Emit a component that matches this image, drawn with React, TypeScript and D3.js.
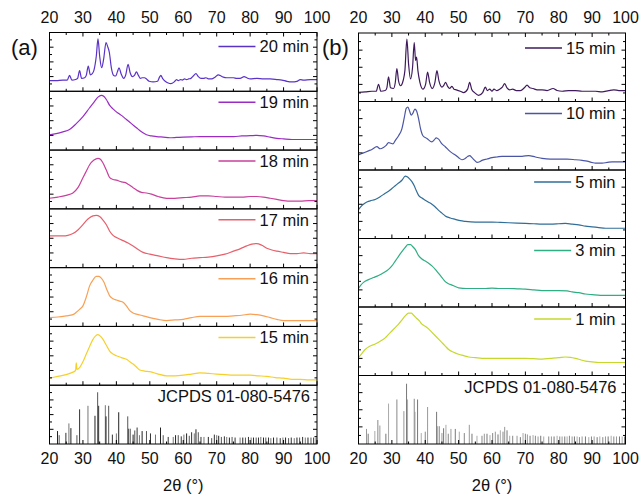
import React, { useEffect, useRef } from "react";
import * as d3 from "d3";

type Pt = [number, number];

// panel (a) series: [2theta, relative intensity within its row]
const labelsA = ["20 min", "19 min", "18 min", "17 min", "16 min", "15 min"];
const colorsA = ["#5a32c8", "#9a2cc4", "#c8409c", "#e6606c", "#f8a055", "#f6d02a"];

const a20: Pt[] = [[20,0.18],[22,0.18],[24,0.19],[25.3,0.19],[26,0.27],[26.7,0.19],[27.8,0.2],[28.4,0.22],[29,0.35],[29.6,0.22],[30.5,0.23],[31,0.27],[31.6,0.43],[32.2,0.28],[32.8,0.3],[33.3,0.36],[34,0.6],[34.5,0.89],[35,0.6],[35.6,0.4],[36.2,0.55],[36.9,0.83],[37.4,0.76],[37.9,0.66],[38.5,0.4],[39.2,0.27],[39.8,0.26],[40.3,0.33],[40.8,0.4],[41.4,0.3],[42.2,0.22],[42.8,0.28],[43.5,0.46],[44.1,0.32],[44.8,0.25],[45.4,0.27],[46,0.33],[46.6,0.27],[47.2,0.22],[47.8,0.23],[48.4,0.23],[49,0.21],[49.8,0.17],[51,0.16],[52.3,0.17],[52.9,0.24],[53.3,0.27],[53.8,0.22],[54.6,0.17],[55.5,0.14],[56.3,0.13],[57.3,0.16],[58,0.2],[58.5,0.18],[59.2,0.2],[59.7,0.19],[60.4,0.21],[61,0.2],[61.6,0.21],[62.3,0.22],[63,0.26],[63.8,0.3],[64.5,0.25],[65.3,0.22],[66,0.22],[66.8,0.23],[67.5,0.21],[68.5,0.21],[69.5,0.24],[70.5,0.28],[71.3,0.26],[72,0.24],[73,0.23],[74,0.23],[75,0.23],[76,0.22],[77,0.22],[78.2,0.25],[79,0.23],[80,0.21],[82,0.22],[84,0.21],[86,0.21],[88,0.2],[89.5,0.19],[91,0.17],[92.5,0.16],[94,0.17],[95,0.2],[96,0.19],[98,0.2],[100,0.2]];
const a19: Pt[] = [[20,0.26],[22,0.28],[24,0.31],[26,0.35],[28,0.45],[30,0.57],[32,0.72],[33.5,0.83],[34.5,0.9],[35.5,0.93],[36.3,0.91],[37,0.86],[38,0.76],[39,0.7],[40,0.65],[41.5,0.59],[43,0.52],[44.5,0.45],[46,0.38],[47.5,0.31],[49,0.26],[50.5,0.24],[52,0.23],[54,0.22],[56,0.21],[58,0.215],[60,0.22],[62.5,0.225],[65,0.23],[67.5,0.23],[70,0.23],[72.5,0.23],[75,0.23],[77.5,0.24],[80,0.245],[82,0.25],[84,0.24],[86,0.22],[88,0.2],[90,0.19],[92.5,0.18],[95,0.18],[97.5,0.18],[100,0.18]];
const a18: Pt[] = [[20,0.18],[22.5,0.2],[25,0.23],[27,0.27],[28.5,0.36],[30,0.53],[31,0.64],[32,0.75],[33.3,0.83],[34.5,0.86],[35.3,0.84],[36,0.78],[37,0.66],[38,0.53],[39,0.5],[40,0.49],[41.5,0.46],[42.5,0.45],[43.5,0.42],[45,0.36],[46.3,0.31],[47.5,0.28],[49,0.27],[50.5,0.25],[52.5,0.21],[55,0.18],[57.5,0.18],[60,0.19],[62.5,0.2],[65,0.22],[67.5,0.22],[70,0.21],[72.5,0.2],[75,0.2],[77.5,0.2],[80,0.21],[82,0.21],[84,0.2],[86,0.18],[88,0.16],[90,0.14],[92.5,0.13],[95,0.13],[97.5,0.14],[100,0.14]];
const a17: Pt[] = [[20,0.54],[22,0.54],[24,0.54],[25.5,0.55],[27,0.58],[28.5,0.64],[30,0.73],[31,0.8],[32,0.85],[33,0.88],[34,0.89],[35,0.87],[36,0.81],[37,0.73],[38,0.62],[39,0.55],[40.5,0.5],[42,0.46],[43.5,0.42],[45,0.37],[46.5,0.31],[48,0.26],[50,0.23],[52.5,0.2],[55,0.17],[57.5,0.15],[60,0.14],[62.5,0.16],[65,0.17],[67.5,0.18],[70,0.2],[72.5,0.23],[75,0.28],[77,0.32],[79,0.37],[80.5,0.4],[82,0.41],[83.5,0.38],[85,0.33],[86.5,0.3],[88,0.28],[90,0.26],[92,0.24],[94,0.24],[96,0.25],[98,0.24],[100,0.24]];
const a16: Pt[] = [[20,0.15],[22.5,0.16],[25,0.18],[27,0.2],[28,0.24],[29,0.29],[30,0.35],[31,0.5],[32,0.69],[33,0.79],[34,0.85],[34.8,0.85],[35.5,0.82],[36.3,0.75],[37.2,0.62],[38,0.52],[39,0.47],[40,0.45],[41,0.43],[42,0.41],[43,0.35],[44,0.27],[45,0.23],[46,0.21],[48,0.18],[50,0.15],[52.5,0.12],[55,0.1],[57.5,0.11],[60,0.12],[62.5,0.15],[65,0.17],[67.5,0.17],[70,0.17],[72.5,0.17],[75,0.18],[77.5,0.19],[80,0.21],[82,0.2],[84,0.18],[86,0.15],[88,0.12],[90,0.1],[92.5,0.1],[95,0.1],[97.5,0.1],[100,0.1]];
const a15: Pt[] = [[20,0.12],[22.5,0.15],[25,0.18],[26.5,0.21],[27.8,0.25],[28,0.38],[28.2,0.27],[29,0.3],[30,0.4],[31,0.53],[32,0.66],[33,0.78],[33.8,0.84],[34.5,0.86],[35.3,0.83],[36,0.78],[37,0.68],[38,0.58],[39,0.53],[40,0.5],[41.5,0.47],[43,0.44],[44,0.4],[45,0.36],[46,0.31],[47,0.26],[48.5,0.24],[50,0.23],[52.5,0.19],[55,0.16],[57.5,0.16],[60,0.17],[62.5,0.19],[65,0.21],[67.5,0.2],[70,0.19],[72.5,0.18],[75,0.17],[77.5,0.17],[80,0.17],[82.5,0.16],[85,0.15],[87.5,0.13],[90,0.12],[92.5,0.1],[95,0.1],[97.5,0.09],[100,0.09]];

// panel (b) series
const labelsB = ["15 min", "10 min", "5 min", "3 min", "1 min"];
const colorsB = ["#3e1a5c", "#4a55a6", "#306e98", "#2eae82", "#c6d82c"];

const b15: Pt[] = [[20,0.135],[22,0.14],[24,0.15],[25.3,0.15],[26,0.25],[26.7,0.15],[28,0.16],[28.5,0.2],[29,0.36],[29.6,0.2],[30.5,0.19],[31,0.27],[31.5,0.48],[32,0.3],[32.6,0.23],[33.4,0.31],[33.9,0.45],[34.5,0.91],[35,0.55],[35.6,0.33],[36.2,0.5],[36.7,0.86],[37.1,0.6],[37.4,0.65],[37.8,0.45],[38.4,0.28],[39.3,0.18],[40.1,0.25],[40.7,0.43],[41.3,0.28],[42.1,0.19],[42.9,0.28],[43.5,0.45],[44.1,0.3],[45,0.21],[45.6,0.24],[46.1,0.28],[46.7,0.22],[47.3,0.19],[48,0.22],[48.6,0.18],[49.3,0.17],[50.5,0.15],[51.5,0.13],[52.7,0.18],[53.3,0.28],[53.9,0.18],[54.8,0.13],[56,0.09],[57.2,0.13],[58,0.21],[58.6,0.16],[59.3,0.18],[60,0.15],[60.6,0.18],[61.4,0.16],[62.3,0.18],[63.1,0.21],[63.8,0.26],[64.5,0.2],[65.3,0.17],[66.2,0.18],[67.3,0.16],[68.5,0.16],[69.7,0.2],[70.5,0.24],[71.3,0.2],[72.3,0.19],[73.5,0.17],[75,0.17],[76.5,0.16],[78.3,0.19],[79.5,0.16],[81,0.15],[83,0.16],[85,0.16],[87,0.15],[89,0.15],[91,0.15],[93,0.14],[95,0.16],[96.5,0.17],[98,0.16],[100,0.16]];
const b10: Pt[] = [[20,0.22],[21,0.24],[22,0.26],[23,0.28],[24,0.3],[25.5,0.34],[26.5,0.31],[27.5,0.33],[28.3,0.36],[29,0.4],[29.7,0.39],[30.3,0.38],[31,0.43],[32,0.5],[33,0.6],[33.7,0.76],[34.3,0.9],[34.8,0.92],[35.3,0.86],[35.8,0.8],[36.3,0.83],[36.9,0.89],[37.4,0.86],[38,0.75],[38.6,0.6],[39.3,0.5],[40.5,0.46],[42,0.41],[42.7,0.44],[43.3,0.47],[44,0.45],[45,0.38],[46,0.34],[47,0.29],[48,0.25],[49,0.22],[50,0.18],[51,0.15],[52,0.17],[52.8,0.2],[53.3,0.21],[54,0.18],[54.8,0.14],[55.5,0.11],[56.3,0.12],[57,0.14],[58.5,0.16],[60,0.18],[61.5,0.19],[63,0.2],[65,0.2],[67,0.2],[69,0.2],[71,0.21],[73,0.19],[75,0.17],[77.5,0.16],[80,0.16],[82.5,0.16],[85,0.15],[87,0.14],[88.5,0.13],[90,0.11],[91,0.1],[93,0.1],[94.5,0.11],[96,0.12],[98,0.12],[100,0.12]];
const b5: Pt[] = [[20,0.42],[21,0.48],[22,0.52],[23.5,0.55],[25,0.57],[26.5,0.61],[28,0.66],[29,0.69],[30,0.73],[31,0.77],[32,0.81],[33,0.85],[34,0.91],[34.6,0.9],[35.3,0.87],[36,0.83],[36.7,0.77],[37.3,0.7],[38,0.63],[39,0.59],[40,0.56],[41,0.53],[42,0.5],[43,0.46],[44,0.41],[45,0.37],[46,0.33],[47.5,0.3],[49,0.28],[50.5,0.26],[52,0.25],[55,0.24],[57.5,0.24],[60,0.24],[62.5,0.235],[65,0.23],[67.5,0.225],[70,0.22],[72.5,0.215],[75,0.21],[77.5,0.21],[80,0.215],[82,0.22],[84,0.21],[86,0.2],[88,0.18],[90,0.17],[92,0.16],[94,0.15],[96,0.15],[98,0.15],[100,0.15]];
const b3: Pt[] = [[20,0.27],[20.7,0.32],[21.5,0.36],[23,0.4],[24.5,0.43],[26,0.46],[27.5,0.5],[29,0.55],[30,0.6],[31,0.67],[32,0.74],[33,0.81],[34,0.87],[34.8,0.91],[35.6,0.91],[36.3,0.88],[37,0.84],[38,0.75],[39,0.7],[40,0.67],[41,0.64],[42,0.6],[43,0.55],[44,0.49],[45,0.43],[46,0.37],[47,0.34],[48,0.32],[49,0.3],[50,0.28],[52.5,0.27],[55,0.27],[57.5,0.27],[60,0.275],[62.5,0.27],[65,0.27],[67.5,0.265],[70,0.26],[72.5,0.25],[75,0.24],[77.5,0.24],[80,0.24],[82.5,0.235],[84,0.22],[86,0.21],[88,0.19],[90,0.18],[92.5,0.17],[95,0.17],[97.5,0.17],[100,0.17]];
const b1: Pt[] = [[20,0.26],[21,0.32],[22,0.38],[23.5,0.43],[25,0.46],[26.5,0.5],[28,0.55],[29,0.6],[30,0.65],[31,0.7],[32,0.75],[33,0.81],[34,0.87],[35,0.91],[35.8,0.91],[36.5,0.88],[37.3,0.84],[38.2,0.8],[39,0.75],[40,0.72],[41,0.68],[42,0.63],[43,0.58],[44,0.53],[45,0.48],[46,0.43],[47,0.38],[48.5,0.34],[50,0.31],[51.5,0.29],[53,0.27],[55,0.26],[57,0.25],[60,0.25],[62.5,0.25],[65,0.25],[67.5,0.25],[70,0.25],[72.5,0.245],[75,0.24],[77.5,0.25],[80,0.26],[82,0.27],[83.5,0.265],[85,0.25],[86.5,0.23],[88,0.21],[90,0.2],[92,0.19],[94,0.19],[96,0.19],[98,0.19],[100,0.19]];

// reference pattern JCPDS 01-080-5476: [2theta, relative height]
const jcpdsLabel = "JCPDS 01-080-5476";
const jcpds: Pt[] = [[22.4,0.22],[22.9,0.15],[24.9,0.19],[25.8,0.35],[26.4,0.27],[28.2,0.15],[29.0,0.59],[31.5,0.65],[33.6,0.48],[34.4,0.88],[34.7,0.65],[36.7,0.66],[36.9,0.47],[37.7,0.65],[38.8,0.16],[40.0,0.18],[40.7,0.54],[43.4,0.47],[43.7,0.26],[44.2,0.26],[45.0,0.16],[45.5,0.23],[46.2,0.28],[46.9,0.15],[47.7,0.22],[49.0,0.22],[50.2,0.18],[51.7,0.16],[53.2,0.28],[54.0,0.15],[55.5,0.12],[57.0,0.12],[57.7,0.15],[58.5,0.15],[59.4,0.13],[60.2,0.16],[61.0,0.18],[61.8,0.14],[62.5,0.2],[63.3,0.18],[63.8,0.25],[64.5,0.2],[65.3,0.12],[66.2,0.12],[67.5,0.12],[68.5,0.1],[69.3,0.16],[70.0,0.15],[70.6,0.14],[71.4,0.12],[72.3,0.13],[73.0,0.12],[73.8,0.11],[74.6,0.12],[75.5,0.11],[77.0,0.11],[77.8,0.11],[78.6,0.11],[79.5,0.12],[80.3,0.11],[81.0,0.11],[81.8,0.11],[82.5,0.11],[83.2,0.12],[84.0,0.11],[84.7,0.11],[85.5,0.11],[86.2,0.1],[87.0,0.11],[88.0,0.11],[89.0,0.1],[89.8,0.11],[90.6,0.11],[91.5,0.1],[92.3,0.11],[93.2,0.1],[94.0,0.11],[94.8,0.11],[95.7,0.12],[96.5,0.11],[97.3,0.11],[98.2,0.11],[99.0,0.11],[99.7,0.11]];

const xTickLabels = [20, 30, 40, 50, 60, 70, 80, 90, 100];

const FONT = "'Liberation Sans', Arial, sans-serif";

function drawPanel(svg: any, p: any) {
  const g = svg.append("g");
  const x = d3.scaleLinear().domain([20, 100]).range([p.left, p.right]);
  const nRows = p.series.length + 1;
  const rowH = (p.bottom - p.top) / nRows;
  const line = d3.line<Pt>().x(d => x(d[0])).curve(d3.curveMonotoneX);

  d3.range(nRows).forEach(i => {
    const y0 = p.top + i * rowH;
    const y1 = y0 + rowH;
    const y = d3.scaleLinear().domain([0, 1]).range([y1, y0]);

    if (i < p.series.length) {
      g.append("path")
        .datum(p.series[i])
        .attr("d", line.y(d => y(d[1])))
        .attr("fill", "none")
        .attr("stroke", p.colors[i])
        .attr("stroke-width", 1.2);

      const ly = y0 + p.legendDy + (i === 0 ? 3 : 0);
      const t = g.append("text")
        .attr("x", p.right - p.legendRight)
        .attr("y", ly)
        .attr("dy", "0.35em")
        .attr("text-anchor", "end")
        .attr("font-size", 16.5)
        .attr("fill", "#111")
        .text(p.labels[i]);
      const w = (t.node() as SVGTextElement).getComputedTextLength();
      const xe = p.right - p.legendRight - w - 4;
      g.append("line")
        .attr("x1", xe - 37).attr("x2", xe)
        .attr("y1", ly).attr("y2", ly)
        .attr("stroke", p.colors[i])
        .attr("stroke-width", 1.5);
    } else {
      g.selectAll(null)
        .data(jcpds)
        .enter()
        .append("line")
        .attr("x1", (d: Pt) => x(d[0])).attr("x2", (d: Pt) => x(d[0]))
        .attr("y1", y(0)).attr("y2", (d: Pt) => y(d[1]))
        .attr("stroke", (_d: Pt, k: number) => p.stickColors[k % p.stickColors.length])
        .attr("stroke-width", 1);
      g.append("text")
        .attr("x", p.right - p.legendRight + 1)
        .attr("y", y0 + 11.5)
        .attr("dy", "0.35em")
        .attr("text-anchor", "end")
        .attr("font-size", 16.5)
        .attr("fill", "#111")
        .text(jcpdsLabel);
    }

    // frame
    g.append("rect")
      .attr("x", p.left).attr("y", y0)
      .attr("width", p.right - p.left).attr("height", rowH)
      .attr("fill", "none").attr("stroke", "#000").attr("stroke-width", 1);

    // x ticks (inward)
    x.ticks(16).forEach(t => {
      const len = t % 10 === 0 ? 4 : 2.5;
      g.append("line")
        .attr("x1", x(t)).attr("x2", x(t))
        .attr("y1", y1).attr("y2", y1 - len)
        .attr("stroke", "#000");
      if (i === 0) {
        g.append("line")
          .attr("x1", x(t)).attr("x2", x(t))
          .attr("y1", y0).attr("y2", y0 + len)
          .attr("stroke", "#000");
      }
    });

    // y ticks (inward, both sides)
    d3.range(1, 8).forEach(k => {
      const len = k % 2 === 0 ? 4 : 2.5;
      const yy = y(k / 8);
      g.append("line").attr("x1", p.left).attr("x2", p.left + len)
        .attr("y1", yy).attr("y2", yy).attr("stroke", "#000");
      g.append("line").attr("x1", p.right).attr("x2", p.right - len)
        .attr("y1", yy).attr("y2", yy).attr("stroke", "#000");
    });
  });

  // tick labels top and bottom
  xTickLabels.forEach(t => {
    g.append("text").attr("x", x(t)).attr("y", 23)
      .attr("text-anchor", "middle").attr("font-size", 16).attr("fill", "#111").text(t);
    g.append("text").attr("x", x(t)).attr("y", p.bottom + 20)
      .attr("text-anchor", "middle").attr("font-size", 16).attr("fill", "#111").text(t);
  });

  g.append("text")
    .attr("x", (p.left + p.right) / 2).attr("y", 491)
    .attr("text-anchor", "middle").attr("font-size", 16.5).attr("fill", "#111")
    .text("2θ (°)");

  g.append("text")
    .attr("x", p.labelX).attr("y", 55)
    .attr("font-size", 22).attr("fill", "#111")
    .text(p.panelLabel);
}

export default function App() {
  const ref = useRef<SVGSVGElement>(null);

  useEffect(() => {
    const svg = d3.select(ref.current);
    svg.selectAll("*").remove();
    svg.attr("font-family", FONT);

    drawPanel(svg, {
      left: 49.5, right: 317, top: 32.5, bottom: 444,
      series: [a20, a19, a18, a17, a16, a15],
      labels: labelsA, colors: colorsA,
      stickColors: ["#222", "#555", "#333", "#777"],
      legendRight: 8, legendDy: 11,
      panelLabel: "(a)", labelX: 11,
    });

    drawPanel(svg, {
      left: 358.5, right: 625.5, top: 33, bottom: 444,
      series: [b15, b10, b5, b3, b1],
      labels: labelsB, colors: colorsB,
      stickColors: ["#999", "#777", "#aaa", "#888"],
      legendRight: 10, legendDy: 12,
      panelLabel: "(b)", labelX: 322,
    });
  }, []);

  return (
    <svg ref={ref} width={640} height={496}
      style={{ position: "absolute", left: 0, top: 0, background: "#fff" }} />
  );
}
